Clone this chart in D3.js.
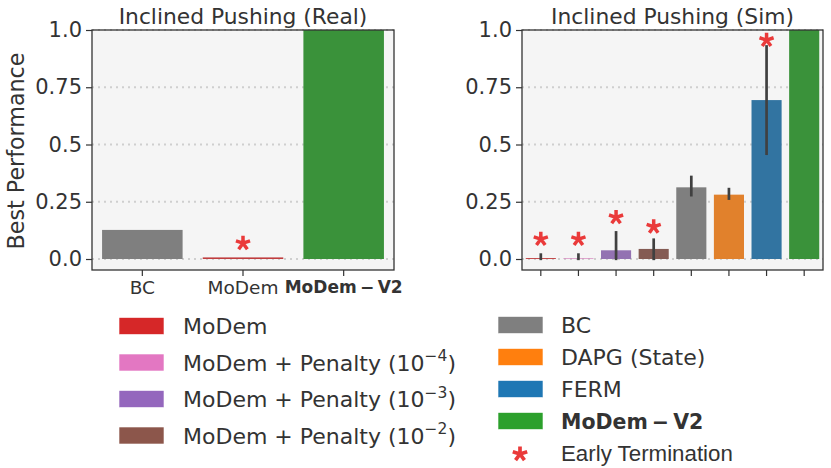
<!DOCTYPE html>
<html>
<head>
<meta charset="utf-8">
<script src="https://cdn.jsdelivr.net/npm/d3@7"></script>
<style>
  body { margin: 0; background: #fff; }
  text { font-family: "DejaVu Sans", sans-serif; fill: #333; }
</style>
</head>
<body>
<svg id="chart" width="831" height="468"></svg>
<script>
// ---- data ----
const realCats = ["BC", "MoDem", "MoDem − V2"];
const realVals = [0.127, 0.007, 1.0];
const realStars = [null, 0.069, null];

const simCats = ["MoDem", "Penalty4", "Penalty3", "Penalty2", "BC", "DAPG", "FERM", "MoDem − V2"];
const simVals = [0.004, 0.003, 0.038, 0.044, 0.313, 0.281, 0.694, 1.0];
const simErrLo = [-0.005, -0.005, -0.005, -0.005, 0.273, 0.258, 0.454, 1.0];
const simErrHi = [0.025, 0.025, 0.122, 0.090, 0.364, 0.311, 0.934, 1.0];
const simStars = [0.087, 0.087, 0.182, 0.141, null, null, 0.956, null];

const yTicks = [0, 0.25, 0.5, 0.75, 1.0];
const yTickLabels = ["0.0", "0.25", "0.5", "0.75", "1.0"];

// bar colours (seaborn desaturated) and legend colours (full tab10)
const barColor = {
  "MoDem": "#c03d3e", "Penalty4": "#d684bd", "Penalty3": "#9372b2", "Penalty2": "#845b53",
  "BC": "#7f7f7f", "DAPG": "#e1812c", "FERM": "#3274a1", "MoDem − V2": "#3a923a"
};
const legendLeft = [
  {label: "MoDem", color: "#d62728"},
  {label: "MoDem + Penalty (10", sup: "−4", color: "#e377c2"},
  {label: "MoDem + Penalty (10", sup: "−3", color: "#9467bd"},
  {label: "MoDem + Penalty (10", sup: "−2", color: "#8c564b"}
];
const legendRight = [
  {label: "BC", color: "#7f7f7f"},
  {label: "DAPG (State)", color: "#ff7f0e"},
  {label: "FERM", color: "#1f77b4"},
  {label: "MoDem − V2", color: "#2ca02c", bold: true},
  {label: "Early Termination", star: true}
];
const starColor = "#ea3a3a";

// bold math label: tighter spaces round the minus
const mathBold = s => s.replace(" − ", "\u2009−\u2009");

const svg = d3.select("#chart");

// five-armed asterisk like the text "*"
const asterisk = {
  draw(ctx, size) {
    const r = Math.sqrt(size) / 2;
    for (let i = 0; i < 5; i++) {
      const a = -Math.PI / 2 + i * 2 * Math.PI / 5;
      ctx.moveTo(0, 0);
      ctx.lineTo(r * Math.cos(a), r * Math.sin(a));
    }
  }
};

function drawPanel(opt) {
  const x = d3.scaleBand().domain(opt.cats).range([opt.x0, opt.x1])
    .paddingInner(0.2).paddingOuter(0.1);
  const y = d3.scaleLinear().domain([-0.048, 1.0]).range([270, 30]);
  const g = svg.append("g");

  g.append("rect").attr("x", opt.x0).attr("y", 30)
    .attr("width", opt.x1 - opt.x0).attr("height", 240).attr("fill", "#f5f5f5");

  g.append("g").selectAll("line").data(yTicks).join("line")
    .attr("x1", opt.x0).attr("x2", opt.x1)
    .attr("y1", d => y(d)).attr("y2", d => y(d))
    .attr("stroke", "#cfcfcf").attr("stroke-width", 2).attr("stroke-dasharray", "2,4");

  g.append("g").selectAll("rect").data(opt.cats).join("rect")
    .attr("x", d => x(d)).attr("width", x.bandwidth())
    .attr("y", (d, i) => y(opt.vals[i]))
    .attr("height", (d, i) => y(0) - y(opt.vals[i]))
    .attr("fill", d => barColor[d]);

  if (opt.lo) {
    g.append("g").selectAll("line").data(opt.cats).join("line")
      .attr("x1", d => x(d) + x.bandwidth() / 2).attr("x2", d => x(d) + x.bandwidth() / 2)
      .attr("y1", (d, i) => y(opt.lo[i])).attr("y2", (d, i) => y(opt.hi[i]))
      .attr("stroke", "#404040").attr("stroke-width", 2.7);
  }

  const stars = opt.cats.map((c, i) => ({c, v: opt.stars[i]})).filter(d => d.v != null);
  g.append("g").selectAll("path").data(stars).join("path")
    .attr("transform", d => `translate(${x(d.c) + x.bandwidth() / 2},${y(d.v)})`)
    .attr("d", d3.symbol().type(asterisk).size(220))
    .attr("stroke", starColor).attr("stroke-width", 3.5).attr("fill", "none");

  const yAxis = g.append("g").attr("transform", `translate(${opt.x0},0)`)
    .call(d3.axisLeft(y).tickValues(yTicks).tickSize(6).tickPadding(4)
      .tickFormat((d, i) => yTickLabels[i]));
  yAxis.select(".domain").remove();
  yAxis.selectAll("line").attr("stroke", "#333").attr("stroke-width", 1.2);
  yAxis.selectAll("text").attr("font-size", 21).attr("fill", "#333")
    .style("font-family", "DejaVu Sans");

  const xAxis = g.append("g").attr("transform", "translate(0,270)")
    .call(d3.axisBottom(x).tickSize(6).tickPadding(5)
      .tickFormat(opt.showLabels ? mathBold : ""));
  xAxis.select(".domain").remove();
  xAxis.selectAll("line").attr("stroke", "#333").attr("stroke-width", 1.2);
  xAxis.selectAll("text").attr("fill", "#333")
    .style("font-family", "DejaVu Sans")
    .attr("font-size", d => d === "MoDem − V2" ? 17 : 18.5)
    .attr("font-weight", d => d === "MoDem − V2" ? "bold" : "normal");

  g.append("rect").attr("x", opt.x0).attr("y", 30)
    .attr("width", opt.x1 - opt.x0).attr("height", 240)
    .attr("fill", "none").attr("stroke", "#333").attr("stroke-width", 1.3);

  g.append("text").attr("x", (opt.x0 + opt.x1) / 2).attr("y", 24)
    .attr("text-anchor", "middle").attr("font-size", 21.8).text(opt.title);
}

drawPanel({x0: 92, x1: 394, cats: realCats, vals: realVals, stars: realStars,
  showLabels: true, title: "Inclined Pushing (Real)"});
drawPanel({x0: 522, x1: 823, cats: simCats, vals: simVals, lo: simErrLo, hi: simErrHi,
  stars: simStars, showLabels: false, title: "Inclined Pushing (Sim)"});

svg.append("text").attr("transform", "translate(24,151) rotate(-90)")
  .attr("text-anchor", "middle").attr("font-size", 22.2).text("Best Performance");

// ---- legends ----
function drawLegend(items, px, tx, y0, dy) {
  const g = svg.append("g");
  items.forEach((d, i) => {
    const cy = y0 + i * dy;
    if (d.star) {
      g.append("path").attr("transform", `translate(${px + 22},${cy + 1})`)
        .attr("d", d3.symbol().type(asterisk).size(230))
        .attr("stroke", starColor).attr("stroke-width", 3.7).attr("fill", "none");
    } else {
      g.append("rect").attr("x", px).attr("y", cy - 8.5).attr("width", 45).attr("height", 17)
        .attr("fill", d.color).attr("stroke", "#fff").attr("stroke-width", 0.6);
    }
    const t = g.append("text").attr("x", tx).attr("y", cy + 8).attr("font-size", 22);
    if (d.star) t.style("font-family", "Liberation Sans").attr("font-size", 22.3);
    if (d.bold) t.attr("font-weight", "bold").attr("font-size", 20.5);
    t.append("tspan").text(d.bold ? mathBold(d.label) : d.label);
    if (d.sup) {
      t.append("tspan").attr("dy", -9.5).attr("font-size", 15.5).text(d.sup);
      t.append("tspan").attr("dy", 9.5).text(")");
    }
  });
}
drawLegend(legendLeft, 119, 183, 326, 36.5);
drawLegend(legendRight, 498, 561, 325, 32);
</script>
</body>
</html>
